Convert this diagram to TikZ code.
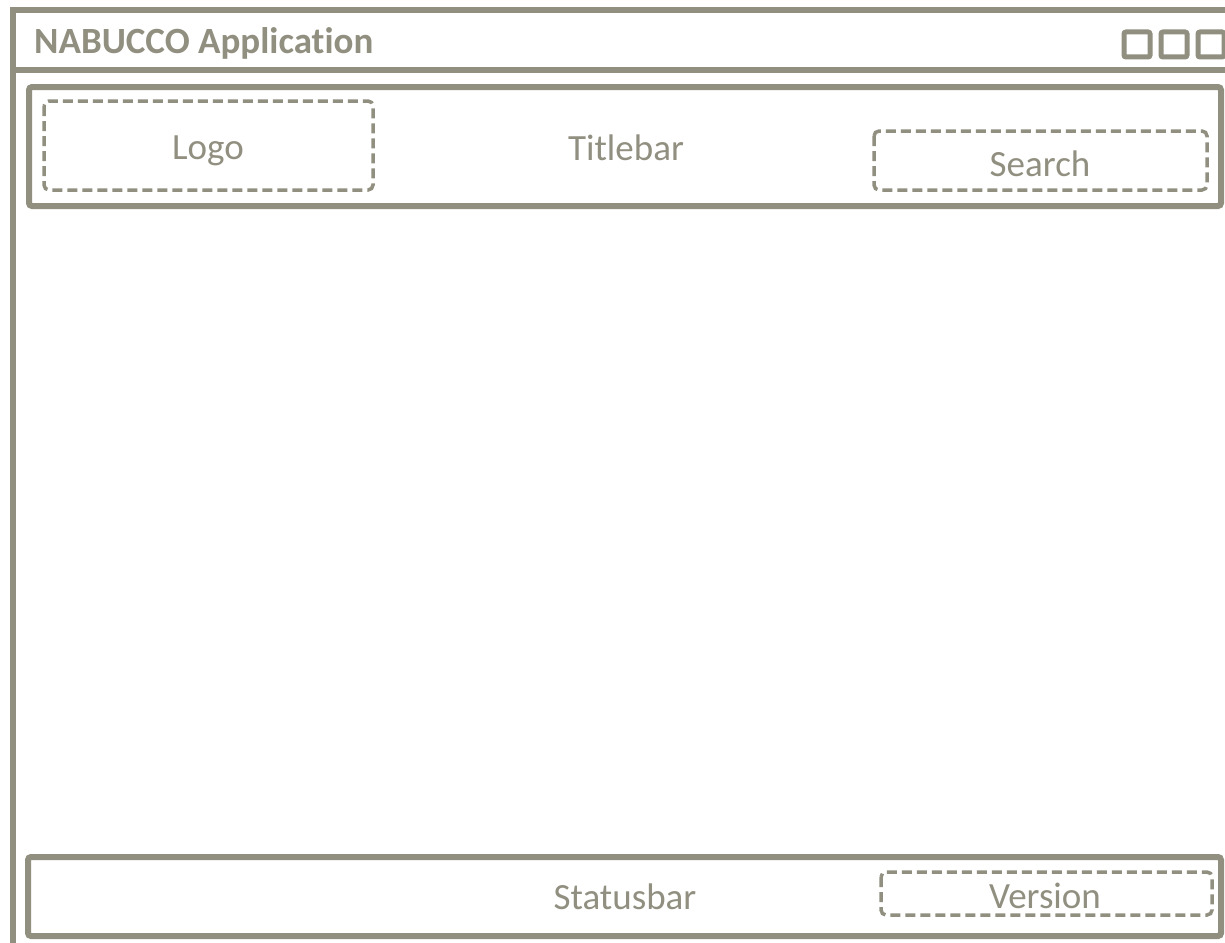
\documentclass[tikz,border=0pt]{standalone}
\usepackage{fontspec}
\setmainfont[Ligatures=NoCommon]{Carlito}
\definecolor{frame}{RGB}{145,143,128}
\tikzset{
  win/.style={draw=frame, line width=6pt},
  panel/.style={draw=frame, line width=6pt, rounded corners=3pt},
  slot/.style={draw=frame, line width=3.5pt, rounded corners=5pt, dash pattern=on 10pt off 5pt},
  btn/.style={draw=frame, line width=5pt, rounded corners=2pt},
  lbl/.style={text=frame, font=\fontsize{37}{44}\selectfont, inner sep=0pt, anchor=base},
}
\begin{document}
\begin{tikzpicture}[x=1pt,y=-1pt]
  \fill[white] (0,0) rectangle (1225,942);
  \clip (0,0) rectangle (1225,942);
  % application window, running off the right and bottom edges
  \draw[win] (12.5,980) -- (12.5,10) -- (1260,10);
  \draw[win] (12.5,69.5) -- (1260,69.5);
  \node[lbl, font=\bfseries\fontsize{37}{44}\selectfont, anchor=base west] (title) at (34,54) {NABUCCO Application};
  % window buttons
  \draw[btn] (1124,32) rectangle (1150,57);
  \draw[btn] (1161,32) rectangle (1187,57);
  \draw[btn] (1198,32) rectangle (1224,57);
  % title bar
  \draw[panel] (29,87) rectangle (1221,206);
  \node[lbl] (titlebar) at (626,160) {Titlebar};
  \draw[slot] (44,101) rectangle (373,190);
  \node[lbl] (logo) at (208,159) {Logo};
  \draw[slot] (874,131) rectangle (1207,190);
  \node[lbl] (search) at (1040,176) {Search};
  % status bar
  \draw[panel] (28,857) rectangle (1221,936);
  \node[lbl] (statusbar) at (625,909) {Statusbar};
  \draw[slot] (881,872) rectangle (1212,915);
  \node[lbl] (version) at (1045,908) {Version};
\end{tikzpicture}
\end{document}
